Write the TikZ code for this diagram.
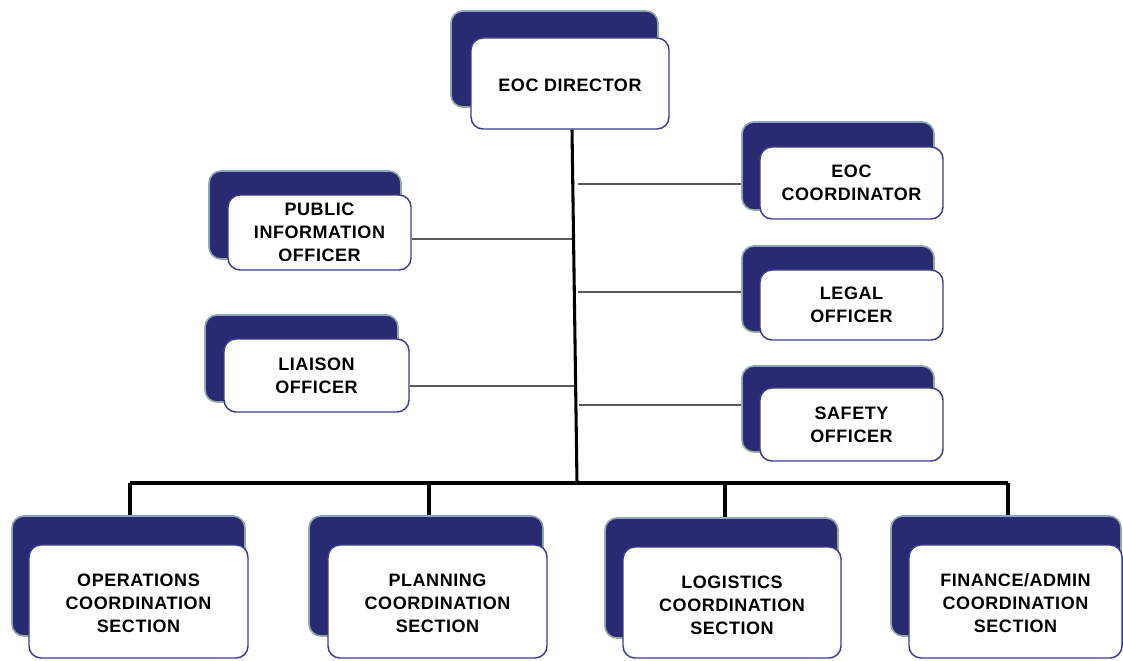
\documentclass[tikz,border=0pt]{standalone}
\usepackage{fontspec}
\setmainfont{Liberation Sans}[LetterSpace=3]
\usetikzlibrary{fit,calc}
\definecolor{navy}{HTML}{2A2A72}
\definecolor{shadowedge}{HTML}{8FA8A8}
\definecolor{frontedge}{HTML}{3A3A9A}
\tikzset{
  shadowbox/.style={draw=shadowedge, fill=navy, line width=1.2pt, rounded corners=9pt, inner sep=0pt},
  frontbox/.style={draw=frontedge, fill=white, line width=1.1pt, rounded corners=9pt, inner sep=0pt},
  lbl/.style={align=center, inner sep=0pt, anchor=center, font=\fontsize{13.5}{17.25}\selectfont\bfseries},
  trunk/.style={line width=2.3pt, black},
  twig/.style={line width=0.8pt, black!65}
}
\begin{document}
\begin{tikzpicture}[x=0.75pt,y=-0.75pt]
\useasboundingbox (0,0) rectangle (1123,660);
% director
\node[shadowbox, fit={(451,11) (658,107)}] (dirS) {};
\node[frontbox, fit={(471,38) (669,129)}] (dir) {};
\node[lbl] (dirT) at ($(dir.center)+(0,1.5)$) {EOC DIRECTOR};
% right side
\node[shadowbox, fit={(742,122) (934,210)}] (coordS) {};
\node[frontbox, fit={(760,147) (943,219)}] (coord) {};
\node[lbl] (coordT) at (coord.center) {EOC\\COORDINATOR};
\node[shadowbox, fit={(742,246) (934,332)}] (legalS) {};
\node[frontbox, fit={(760,270) (943,340)}] (legal) {};
\node[lbl] (legalT) at (legal.center) {LEGAL\\OFFICER};
\node[shadowbox, fit={(742,366) (934,452)}] (safeS) {};
\node[frontbox, fit={(760,388) (943,461)}] (safe) {};
\node[lbl] (safeT) at (safe.center) {SAFETY\\OFFICER};
% left side
\node[shadowbox, fit={(209,171) (401,259)}] (pioS) {};
\node[frontbox, fit={(228,195) (411,270)}] (pio) {};
\node[lbl] (pioT) at (pio.center) {PUBLIC\\INFORMATION\\OFFICER};
\node[shadowbox, fit={(205,315) (398,402)}] (liaS) {};
\node[frontbox, fit={(224,339) (409,412)}] (lia) {};
\node[lbl] (liaT) at (lia.center) {LIAISON\\OFFICER};
% bottom sections
\node[shadowbox, fit={(12,516) (245,636)}] (opsS) {};
\node[frontbox, fit={(29,545) (248,658)}] (ops) {};
\node[lbl] (opsT) at ($(ops.center)+(0,1.5)$) {OPERATIONS\\COORDINATION\\SECTION};
\node[shadowbox, fit={(309,516) (543,636)}] (planS) {};
\node[frontbox, fit={(328,545) (547,658)}] (plan) {};
\node[lbl] (planT) at ($(plan.center)+(0,1.5)$) {PLANNING\\COORDINATION\\SECTION};
\node[shadowbox, fit={(605,518) (838,638)}] (logS) {};
\node[frontbox, fit={(623,547) (841,658)}] (log) {};
\node[lbl] (logT) at ($(log.center)+(0,2.5)$) {LOGISTICS\\COORDINATION\\SECTION};
\node[shadowbox, fit={(891,516) (1121,636)}] (finS) {};
\node[frontbox, fit={(909,545) (1122,658)}] (fin) {};
\node[lbl] (finT) at ($(fin.center)+(0,1.5)$) {FINANCE/ADMIN\\COORDINATION\\SECTION};
% trunk and bus
\coordinate (top) at (572,129);
\coordinate (bot) at (577,483);
\coordinate (busL) at (130,483);
\coordinate (busR) at (1008,483);
\coordinate (b2) at (429,483);
\coordinate (b3) at (725,483);
\draw[trunk] (dir.south -| top) -- (bot);
\draw[trunk] (busL) -- (busR);
\draw[trunk] (busL) -- (busL |- opsS.north);
\draw[trunk] (b2) -- (b2 |- planS.north);
\draw[trunk] (b3) -- (b3 |- logS.north);
\draw[trunk] (busR) -- (busR |- finS.north);
% side connectors
\coordinate (t1) at (578,184);
\coordinate (t2) at (578,292);
\coordinate (t3) at (579,405);
\coordinate (t4) at (572,239);
\coordinate (t5) at (574,386);
\draw[twig] (t1) -- (t1 -| coordS.west);
\draw[twig] (t2) -- (t2 -| legalS.west);
\draw[twig] (t3) -- (t3 -| safeS.west);
\draw[twig] (t4 -| pio.east) -- (t4);
\draw[twig] (t5 -| lia.east) -- (t5);
\end{tikzpicture}
\end{document}
